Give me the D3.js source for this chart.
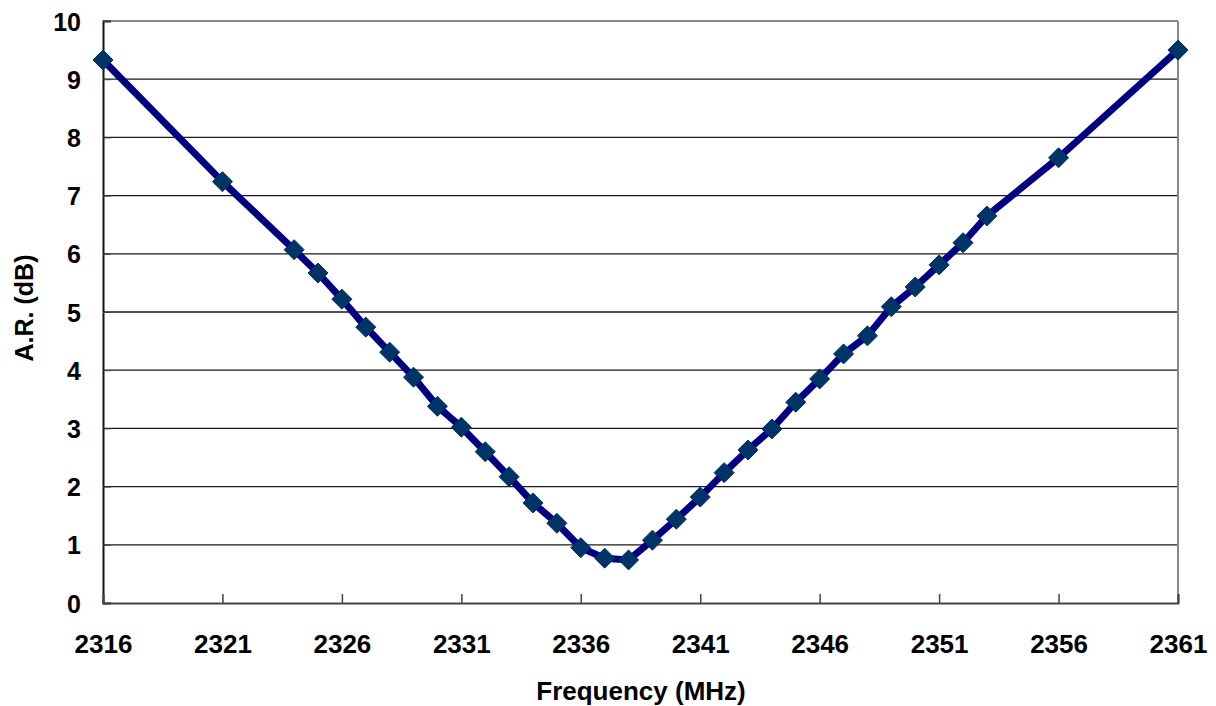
<!DOCTYPE html>
<html>
<head>
<meta charset="utf-8">
<script src="https://cdn.jsdelivr.net/npm/d3@7"></script>
<style>
  html, body { margin: 0; padding: 0; background: #fff; overflow: hidden; }
  svg { display: block; }
  svg text { font-family: Arial, "Liberation Sans", sans-serif; font-weight: bold; fill: #000; }
</style>
</head>
<body>
<div id="chart"></div>
<script>
// Measured frequencies (MHz)
const freqs = [
  2316, 2321, 2324, 2325, 2326, 2327, 2328, 2329, 2330, 2331, 2332, 2333,
  2334, 2335, 2336, 2337, 2338, 2339, 2340, 2341, 2342, 2343, 2344, 2345,
  2346, 2347, 2348, 2349, 2350, 2351, 2352, 2353, 2356, 2361
];
// Axial ratio (dB)
const arValues = [
  9.33, 7.24, 6.07, 5.67, 5.22, 4.74, 4.31, 3.88, 3.38, 3.02, 2.6, 2.17,
  1.72, 1.37, 0.95, 0.77, 0.74, 1.08, 1.44, 1.82, 2.24, 2.63, 2.99, 3.45,
  3.85, 4.28, 4.59, 5.09, 5.43, 5.81, 6.19, 6.65, 7.65, 9.5
];
const xTicks = [2316, 2321, 2326, 2331, 2336, 2341, 2346, 2351, 2356, 2361];
const yTicks = [0, 1, 2, 3, 4, 5, 6, 7, 8, 9, 10];

const width = 1216, height = 706;
const margins = { left: 103, right: 38, top: 21, bottom: 103 };
const innerWidth = width - margins.left - margins.right;
const innerHeight = height - margins.top - margins.bottom;

const svg = d3.select('#chart').append('svg')
  .attr('width', width).attr('height', height);

const g = svg.append('g')
  .attr('transform', `translate(${margins.left}, ${margins.top})`);

const x = d3.scaleLinear().domain([2316, 2361]).range([0, innerWidth]);
const y = d3.scaleLinear().domain([0, 10]).range([innerHeight, 0]);

// Horizontal gridlines
g.selectAll('.grid')
  .data(yTicks.filter(t => t > 0 && t < 10))
  .join('line')
  .attr('x1', 0).attr('x2', innerWidth)
  .attr('y1', d => y(d)).attr('y2', d => y(d))
  .attr('stroke', '#1a1a1a').attr('stroke-width', 1.3);

// Plot frame (top and right are grey)
g.append('line').attr('x1', 0).attr('x2', innerWidth).attr('y1', 0).attr('y2', 0)
  .attr('stroke', '#888').attr('stroke-width', 2);
g.append('line').attr('x1', innerWidth).attr('x2', innerWidth).attr('y1', 0).attr('y2', innerHeight)
  .attr('stroke', '#888').attr('stroke-width', 2);

// Y axis
const yAxis = g.append('g')
  .call(d3.axisLeft(y).tickValues(yTicks).tickSize(-8).tickPadding(22));
yAxis.attr('font-size', null).attr('font-family', null);
yAxis.select('.domain').attr('stroke', '#111').attr('stroke-width', 2);
yAxis.selectAll('.tick line').attr('stroke', '#444');
yAxis.selectAll('text').style('font-size', '25px').attr('dy', '0.36em');

// X axis
const xAxis = g.append('g')
  .attr('transform', `translate(0, ${innerHeight})`)
  .call(d3.axisBottom(x).tickValues(xTicks).tickFormat(d3.format('d')).tickSize(-9).tickPadding(32));
xAxis.attr('font-size', null).attr('font-family', null);
xAxis.select('.domain').attr('stroke', '#444').attr('stroke-width', 2);
xAxis.selectAll('.tick line').attr('stroke', '#444').attr('stroke-width', 1.5);
xAxis.selectAll('text').style('font-size', '26px');

// Data line
const line = d3.line()
  .x((d, i) => x(freqs[i]))
  .y(d => y(d));

g.append('path')
  .datum(arValues)
  .attr('d', line)
  .attr('fill', 'none')
  .attr('stroke', '#000080')
  .attr('stroke-width', 7)
  .attr('stroke-linejoin', 'round');

// Diamond markers
const r = 10;
g.selectAll('.marker')
  .data(arValues)
  .join('path')
  .attr('d', `M0,${-r}L${r},0L0,${r}L${-r},0Z`)
  .attr('transform', (d, i) => `translate(${x(freqs[i])}, ${y(d)})`)
  .attr('fill', '#003366')
  .attr('stroke', '#003366')
  .attr('stroke-width', 1)
  .attr('stroke-linejoin', 'round');

// Axis titles
svg.append('text')
  .attr('x', 641)
  .attr('y', 700)
  .attr('text-anchor', 'middle')
  .style('font-size', '26px')
  .text('Frequency (MHz)');

svg.append('text')
  .attr('transform', `translate(33, 308) rotate(-90)`)
  .attr('text-anchor', 'middle')
  .style('font-size', '25px')
  .text('A.R. (dB)');
</script>
</body>
</html>
